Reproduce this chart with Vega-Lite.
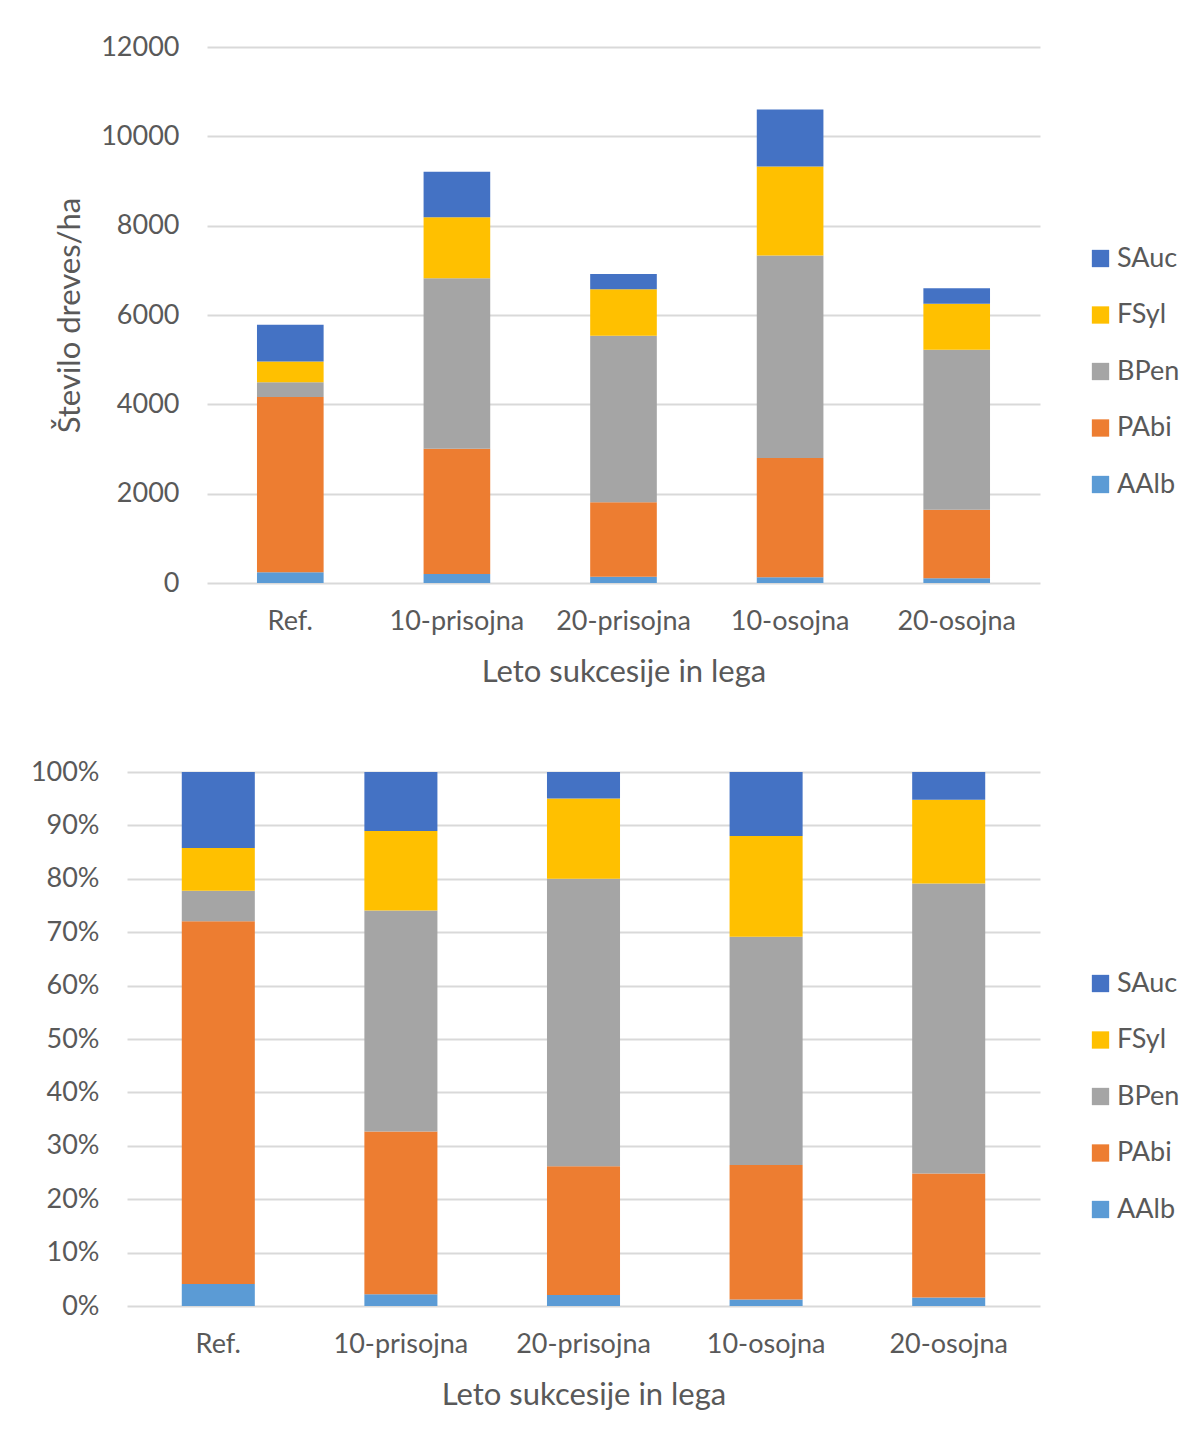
{
  "$schema": "https://vega.github.io/schema/vega-lite/v6.json",
  "padding": {"left": 30, "top": 33, "right": 0, "bottom": 0},
  "background": "white",
  "spacing": 71,
  "center": true,
  "data": {"values": [
    {"lega": "Ref.", "vrsta": "AAlb", "r": 1, "n": 239},
    {"lega": "Ref.", "vrsta": "PAbi", "r": 2, "n": 3927},
    {"lega": "Ref.", "vrsta": "BPen", "r": 3, "n": 329},
    {"lega": "Ref.", "vrsta": "FSyl", "r": 4, "n": 464},
    {"lega": "Ref.", "vrsta": "SAuc", "r": 5, "n": 823},
    {"lega": "10-prisojna", "vrsta": "AAlb", "r": 1, "n": 202},
    {"lega": "10-prisojna", "vrsta": "PAbi", "r": 2, "n": 2805},
    {"lega": "10-prisojna", "vrsta": "BPen", "r": 3, "n": 3814},
    {"lega": "10-prisojna", "vrsta": "FSyl", "r": 4, "n": 1369},
    {"lega": "10-prisojna", "vrsta": "SAuc", "r": 5, "n": 1017},
    {"lega": "20-prisojna", "vrsta": "AAlb", "r": 1, "n": 142},
    {"lega": "20-prisojna", "vrsta": "PAbi", "r": 2, "n": 1668},
    {"lega": "20-prisojna", "vrsta": "BPen", "r": 3, "n": 3725},
    {"lega": "20-prisojna", "vrsta": "FSyl", "r": 4, "n": 1039},
    {"lega": "20-prisojna", "vrsta": "SAuc", "r": 5, "n": 344},
    {"lega": "10-osojna", "vrsta": "AAlb", "r": 1, "n": 127},
    {"lega": "10-osojna", "vrsta": "PAbi", "r": 2, "n": 2670},
    {"lega": "10-osojna", "vrsta": "BPen", "r": 3, "n": 4533},
    {"lega": "10-osojna", "vrsta": "FSyl", "r": 4, "n": 1997},
    {"lega": "10-osojna", "vrsta": "SAuc", "r": 5, "n": 1271},
    {"lega": "20-osojna", "vrsta": "AAlb", "r": 1, "n": 105},
    {"lega": "20-osojna", "vrsta": "PAbi", "r": 2, "n": 1533},
    {"lega": "20-osojna", "vrsta": "BPen", "r": 3, "n": 3583},
    {"lega": "20-osojna", "vrsta": "FSyl", "r": 4, "n": 1032},
    {"lega": "20-osojna", "vrsta": "SAuc", "r": 5, "n": 344}
  ]},
  "config": {
    "font": "Lato",
    "view": {"stroke": null},
    "axis": {
      "labelFont": "Lato", "titleFont": "Lato",
      "labelColor": "#595959", "titleColor": "#595959",
      "labelFontSize": 27, "titleFontSize": 31, "titleFontWeight": "normal",
      "domain": false, "ticks": false,
      "gridColor": "#d9d9d9", "gridWidth": 2
    },
    "axisX": {"labelPadding": 25, "titlePadding": 23, "labelAngle": 0, "grid": false},
    "axisY": {"labelPadding": 28, "titlePadding": 14, "titleLineHeight": 23},
    "legend": {
      "labelFont": "Lato", "labelColor": "#595959", "labelFontSize": 27,
      "symbolType": "square", "symbolSize": 300, "symbolStrokeWidth": 0,
      "rowPadding": 28.5, "labelOffset": 3, "padding": 0
    },
    "bar": {"stroke": null}
  },
  "vconcat": [
    {
      "width": 833, "height": 536,
      "mark": {"type": "bar"},
      "encoding": {
        "x": {"field": "lega", "type": "nominal", "sort": ["Ref.", "10-prisojna", "20-prisojna", "10-osojna", "20-osojna"],
              "scale": {"paddingInner": 0.6, "paddingOuter": 0.3},
              "title": "Leto sukcesije in lega"},
        "y": {"field": "n", "type": "quantitative", "stack": "zero",
              "scale": {"domain": [0, 12000], "nice": false},
              "axis": {"values": [0, 2000, 4000, 6000, 8000, 10000, 12000], "format": "d"},
              "title": ["", "Število dreves/ha"]},
        "color": {"field": "vrsta", "type": "nominal",
                  "scale": {"domain": ["SAuc", "FSyl", "BPen", "PAbi", "AAlb"],
                            "range": ["#4472C4", "#FFC000", "#A5A5A5", "#ED7D31", "#5B9BD5"]},
                  "legend": {"title": null, "orient": "none", "legendX": 880, "legendY": 198}},
        "order": {"field": "r", "type": "quantitative", "sort": "ascending"}
      }
    },
    {
      "width": 913, "height": 534,
      "mark": {"type": "bar"},
      "encoding": {
        "x": {"field": "lega", "type": "nominal", "sort": ["Ref.", "10-prisojna", "20-prisojna", "10-osojna", "20-osojna"],
              "scale": {"paddingInner": 0.6, "paddingOuter": 0.3},
              "title": "Leto sukcesije in lega"},
        "y": {"field": "n", "type": "quantitative", "stack": "normalize",
              "scale": {"domain": [0, 1], "nice": false},
              "axis": {"values": [0, 0.1, 0.2, 0.3, 0.4, 0.5, 0.6, 0.7, 0.8, 0.9, 1], "format": ".0%"},
              "title": null},
        "color": {"field": "vrsta", "type": "nominal",
                  "scale": {"domain": ["SAuc", "FSyl", "BPen", "PAbi", "AAlb"],
                            "range": ["#4472C4", "#FFC000", "#A5A5A5", "#ED7D31", "#5B9BD5"]},
                  "legend": {"title": null, "orient": "none", "legendX": 880, "legendY": 118, "padding": 80}},
        "order": {"field": "r", "type": "quantitative", "sort": "ascending"}
      }
    }
  ],
  "resolve": {"scale": {"y": "independent", "x": "independent", "color": "independent"}, "legend": {"color": "independent"}}
}
